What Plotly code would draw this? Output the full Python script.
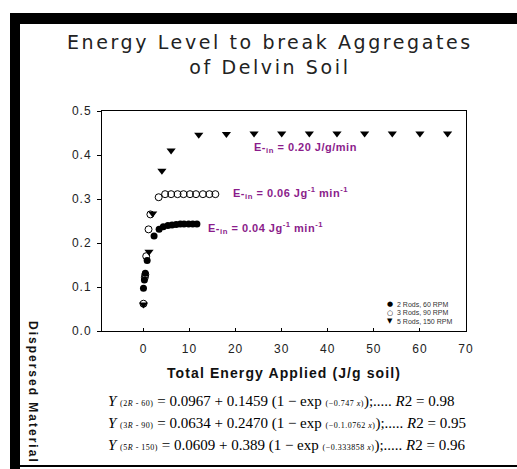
import plotly.graph_objects as go

# ---- data ----
x_2r = [0, 0.2, 0.4, 0.8, 2.3, 3.4, 4.3, 5.3, 6.2, 7.1, 8.0, 8.8, 9.8, 10.7, 11.6]
y_2r = [0.097, 0.116, 0.131, 0.160, 0.216, 0.231, 0.237, 0.240, 0.241, 0.242, 0.243, 0.243, 0.243, 0.243, 0.243]

x_3r = [0, 0.3, 0.4, 0.6, 1.1, 1.5, 3.3, 4.7, 6.0, 7.4, 8.7, 10.1, 11.4, 12.9, 14.3, 15.6]
y_3r = [0.062, 0.122, 0.128, 0.170, 0.231, 0.265, 0.304, 0.311, 0.311, 0.311, 0.311, 0.311, 0.311, 0.311, 0.311, 0.311]

x_5r = [0, 1.2, 2.0, 4.0, 6.0, 12, 18, 24, 30, 36, 42, 48, 54, 60, 66]
y_5r = [0.060, 0.180, 0.267, 0.364, 0.410, 0.446, 0.448, 0.449, 0.449, 0.449, 0.449, 0.449, 0.449, 0.449, 0.449]

series_names = ["2 Rods, 60 RPM", "3 Rods, 90 RPM", "5 Rods, 150 RPM"]
x_ticks = [0, 10, 20, 30, 40, 50, 60, 70]
y_ticks = [0.0, 0.1, 0.2, 0.3, 0.4, 0.5]

title_lines = ["Energy Level to break Aggregates", "of Delvin Soil"]
x_title = "Total Energy Applied (J/g soil)"
y_title = "Dispersed Material"

W, H = 517, 469
L, R, T, B = 102, 466, 111, 331  # plot area in pixels


def px(xp):
    return (xp - L) / (R - L)


def py(yp):
    return (B - yp) / (B - T)


def spaced(t, sp):
    return "<span style='letter-spacing:%spx'>%s</span>" % (sp, t)


fig = go.Figure()
fig.add_trace(go.Scatter(x=x_2r, y=y_2r, mode="markers", name=series_names[0],
                         marker=dict(symbol="circle", size=7, color="black")))
fig.add_trace(go.Scatter(x=x_3r, y=y_3r, mode="markers", name=series_names[1],
                         marker=dict(symbol="circle-open", size=7, color="black",
                                     line=dict(width=1, color="black"))))
fig.add_trace(go.Scatter(x=x_5r, y=y_5r, mode="markers", name=series_names[2],
                         marker=dict(symbol="triangle-down", size=8, color="black")))

purple = "#8B1C8B"
lab_font = dict(family="Liberation Sans, Arial", size=11, color=purple, weight="bold")
ann = []
ann.append(dict(text=spaced("E-<sub>in</sub> = 0.20 J/g/min", 0.5), x=px(252), y=py(148),
                xanchor="left", yanchor="middle"))
ann.append(dict(text=spaced("E-<sub>in</sub> = 0.06 Jg<sup>-1</sup> min<sup>-1</sup>", 0.5), x=px(231), y=py(193),
                xanchor="left", yanchor="middle"))
ann.append(dict(text=spaced("E-<sub>in</sub> = 0.04 Jg<sup>-1</sup> min<sup>-1</sup>", 0.5), x=px(206), y=py(228),
                xanchor="left", yanchor="middle"))
for a in ann:
    a.update(xref="paper", yref="paper", showarrow=False, font=lab_font)

# legend drawn as small text
leg_sym = ["\u25CF", "\u25CB", "\u25BC"]
leg_y = [304, 312.5, 321]
for s, n, yy in zip(leg_sym, series_names, leg_y):
    ann.append(dict(text=s, x=px(390), y=py(yy), xref="paper", yref="paper", showarrow=False,
                    xanchor="center", yanchor="middle", borderpad=0,
                    font=dict(family="DejaVu Sans", size=7, color="black")))
    ann.append(dict(text=n, x=px(396), y=py(yy), xref="paper", yref="paper", showarrow=False,
                    xanchor="left", yanchor="middle", borderpad=0,
                    font=dict(family="Liberation Sans, Arial", size=7, color="#333")))

# title
ann.append(dict(text=spaced(title_lines[0], 2.6) + "<br>" + spaced(title_lines[1], 2.6), x=px(270), y=py(54),
                xref="paper", yref="paper", showarrow=False, xanchor="center", yanchor="middle",
                font=dict(family="DejaVu Sans", size=19, color="#222")))
# axis titles
ann.append(dict(text=spaced(x_title, 1.1), x=px(284), y=py(373), xref="paper", yref="paper", showarrow=False,
                xanchor="center", yanchor="middle",
                font=dict(family="Liberation Sans, Arial", size=14, color="#111", weight="bold")))
ann.append(dict(text=spaced(y_title, 2), x=px(33), y=py(392), xref="paper", yref="paper", showarrow=False,
                xanchor="center", yanchor="middle", textangle=90,
                font=dict(family="Liberation Sans, Arial", size=12, color="#111", weight="bold")))


# equations
def sm(t):
    return "<span style='font-size:8px;letter-spacing:0.5px'>" + t + "</span>"


eqs = [
    "<i>Y</i> " + sm("(2<i>R</i> - 60)") + " = 0.0967 + 0.1459 (1 \u2212 exp " + sm("(\u22120.747 <i>x</i>)") + ");..... <i>R</i>2 = 0.98",
    "<i>Y</i> " + sm("(3<i>R</i> - 90)") + " = 0.0634 + 0.2470 (1 \u2212 exp " + sm("(\u22120.1.0762 <i>x</i>)") + ");..... <i>R</i>2 = 0.95",
    "<i>Y</i> " + sm("(5<i>R</i> - 150)") + " = 0.0609 + 0.389 (1 \u2212 exp " + sm("(\u22120.333858 <i>x</i>)") + ");..... <i>R</i>2 = 0.96",
]
eq_y = [401, 423, 445]
for e, yy in zip(eqs, eq_y):
    ann.append(dict(text=e, x=px(106), y=py(yy), xref="paper", yref="paper", showarrow=False,
                    xanchor="left", yanchor="middle",
                    font=dict(family="Liberation Serif, Times New Roman", size=15, color="black")))

# frame bands
shapes = [
    dict(type="rect", xref="paper", yref="paper", x0=px(10), x1=px(517), y0=py(13), y1=py(24),
         fillcolor="black", line=dict(width=0), layer="above"),
    dict(type="rect", xref="paper", yref="paper", x0=px(10), x1=px(20), y0=py(13), y1=py(469),
         fillcolor="black", line=dict(width=0), layer="above"),
    dict(type="line", xref="paper", yref="paper", x0=px(20), x1=px(517), y0=py(466), y1=py(466),
         line=dict(color="black", width=2)),
]

axis_font = dict(family="Liberation Sans, Arial", size=12, color="#222")
fig.update_layout(
    width=W, height=H,
    margin=dict(l=L, r=W - R, t=T, b=H - B, pad=0),
    paper_bgcolor="white", plot_bgcolor="white",
    showlegend=False,
    annotations=ann, shapes=shapes,
    xaxis=dict(range=[-9, 70], tickvals=x_ticks, ticktext=[spaced(str(v), 1) for v in x_ticks],
               ticks="inside", ticklen=3, tickcolor="black", ticklabelstandoff=7,
               showline=True, linecolor="black", linewidth=1, mirror=True, showgrid=False,
               zeroline=False, tickfont=axis_font),
    yaxis=dict(range=[0, 0.5], tickvals=y_ticks, ticktext=[spaced("%.1f" % v, 1) for v in y_ticks],
               ticks="outside", ticklen=4, ticklabelstandoff=3,
               tickcolor="black", showline=True, linecolor="black", linewidth=1, mirror=True,
               showgrid=False, zeroline=False, tickfont=axis_font),
)

fig.write_html("out.html")
